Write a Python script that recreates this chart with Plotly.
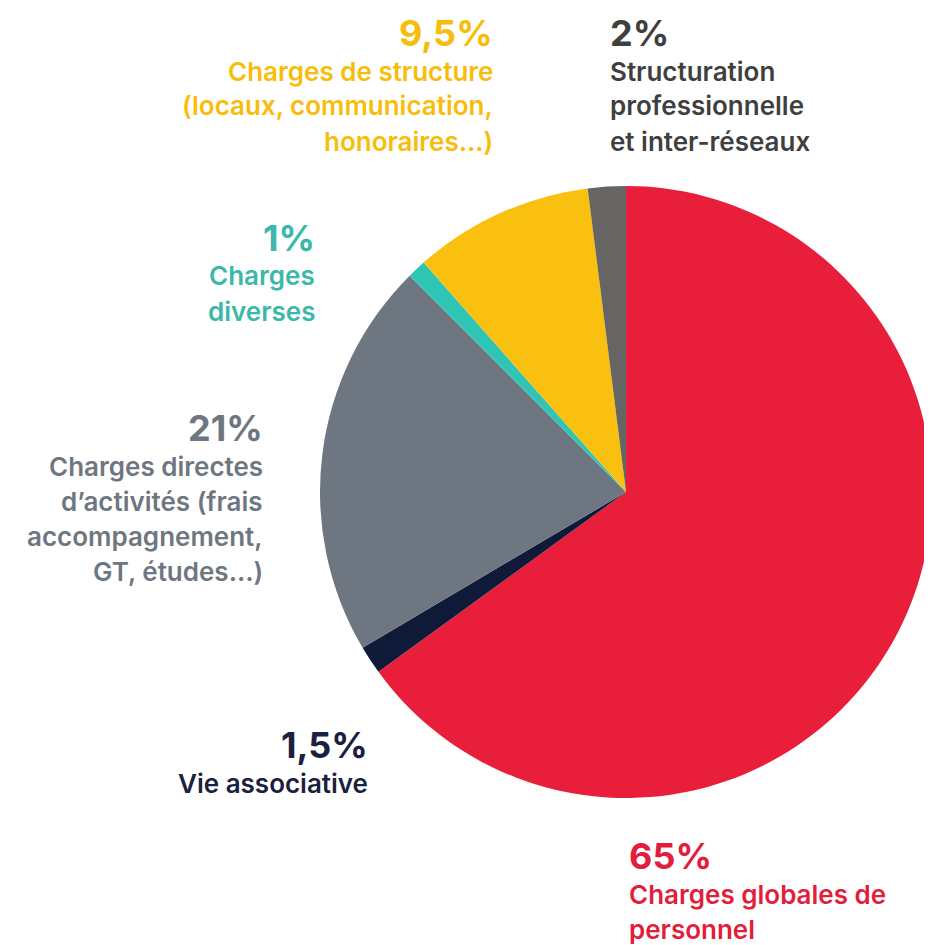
import plotly.graph_objects as go

categories = ["Charges globales de personnel", "Vie associative",
              "Charges directes d'activités", "Charges diverses",
              "Charges de structure", "Structuration professionnelle et inter-réseaux"]
values = [65, 1.5, 21, 1, 9.5, 2]
pct_labels = ["65%", "1,5%", "21%", "1%", "9,5%", "2%"]
label_lines = [
    ["Charges globales de", "personnel"],
    ["Vie associative"],
    ["Charges directes", "d’activités (frais", "accompagnement,", "GT, études…)"],
    ["Charges", "diverses"],
    ["Charges de structure", "(locaux, communication,", "honoraires…)"],
    ["Structuration", "professionnelle", "et inter-réseaux"],
]
slice_colors = ["#E81E3A", "#0E1A38", "#6E7781", "#2EC5B5", "#F9C00F", "#676563"]
text_colors = ["#E31D3C", "#1A2140", "#6E7781", "#3AB8AA", "#F7BD0A", "#3F3F3F"]

OFF = 8  # page body margin
W, H = 932 - OFF, 945 - OFF
# anchor (page x px, page y px of percent line), alignment
anchors = [(627, 856, "left"), (370, 745, "right"), (265, 428, "right"),
           (317, 238, "right"), (495, 33, "right"), (608, 33, "left")]


def px(x):
    return (x - OFF) / W


def py(y):
    return 1 - (y - OFF) / H


fig = go.Figure()
fig.add_trace(go.Pie(
    labels=categories, values=values, sort=False, direction="clockwise",
    rotation=0, marker=dict(colors=slice_colors, line=dict(width=0)),
    textinfo="none", hoverinfo="label+percent", showlegend=False,
    domain=dict(x=[px(320), 1.0], y=[py(798), py(186)]),
))

FONT = "Inter"
ann = []
for i in range(len(values)):
    x, y, al = anchors[i]
    ann.append(dict(x=px(x), y=py(y), xref="paper", yref="paper",
                    text=pct_labels[i], showarrow=False,
                    xanchor=al, yanchor="middle",
                    font=dict(family=FONT, size=36, color=text_colors[i], weight=700)))
    for j, line in enumerate(label_lines[i]):
        ly = y + 38 + 35 * j
        ann.append(dict(x=px(x), y=py(ly), xref="paper", yref="paper",
                        text=line, showarrow=False,
                        xanchor=al, yanchor="middle",
                        font=dict(family=FONT, size=26, color=text_colors[i], weight=600)))

fig.update_layout(
    width=W, height=H, margin=dict(l=0, r=0, t=0, b=0),
    paper_bgcolor="white", plot_bgcolor="white",
    annotations=ann,
)
fig.write_html("out.html")
